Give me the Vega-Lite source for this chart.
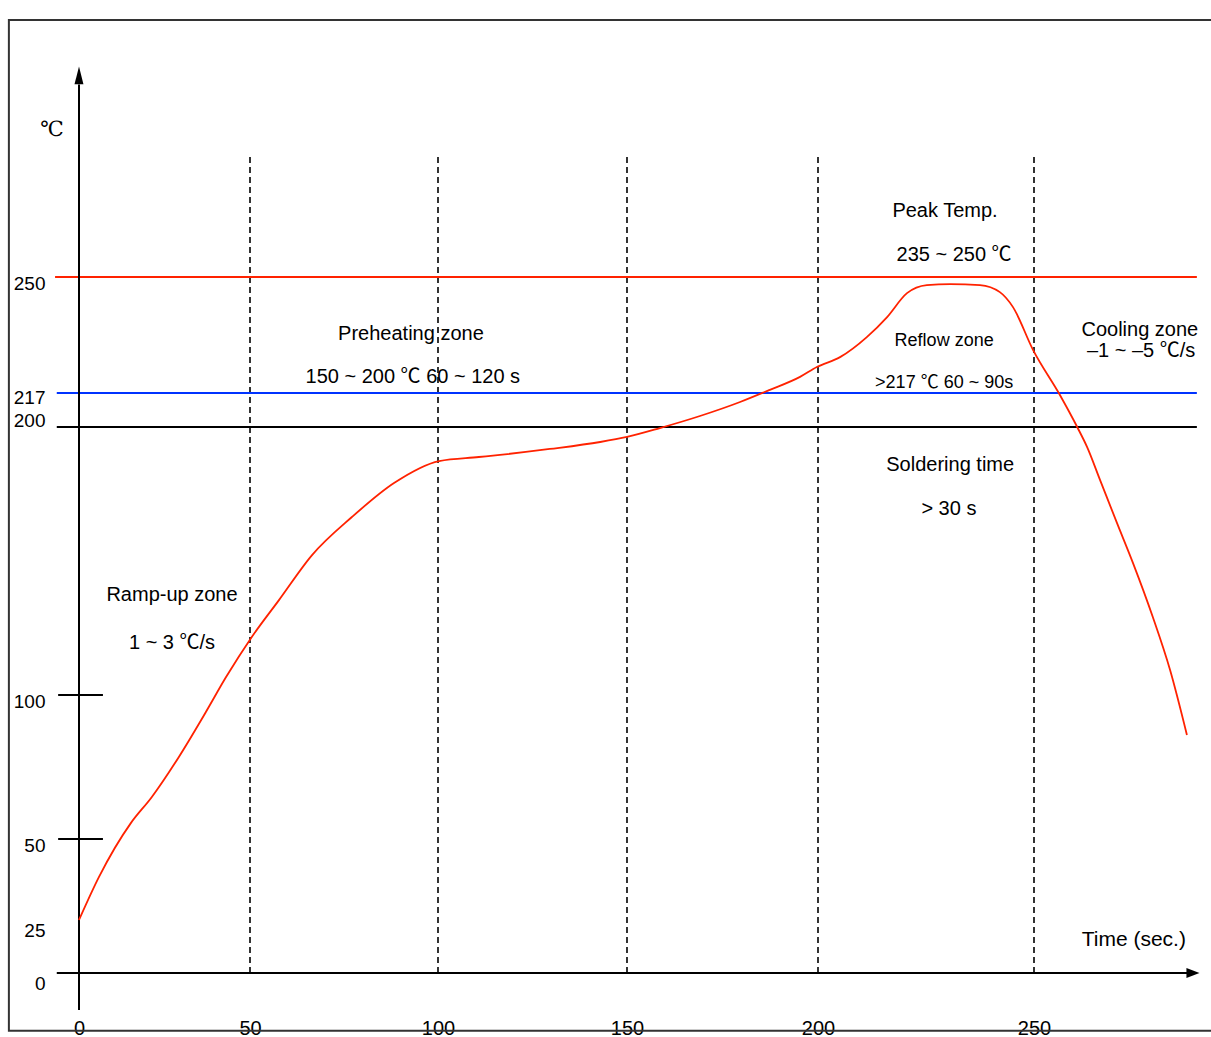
{
  "$schema": "https://vega.github.io/schema/vega-lite/v6.json",
  "width": 1211,
  "height": 1037,
  "autosize": "none",
  "padding": 0,
  "background": "white",
  "config": {"view": {"stroke": null}, "font": "Liberation Sans, Noto Sans CJK SC"},
  "encoding": {
    "x": {
      "field": "t", "type": "quantitative",
      "scale": {"domain": [-25, 0, 50, 100, 150, 200, 250, 300], "range": [-6.5, 79, 250, 438, 627, 818, 1034, 1250], "nice": false, "zero": false},
      "axis": {"values": [0, 50, 100, 150, 200, 250], "domain": false, "ticks": false, "tickSize": 0, "grid": false, "title": null, "offset": -9, "labelPadding": 0, "labelBaseline": "middle", "labelFontSize": 20, "labelColor": "#000", "labelFont": "Liberation Sans", "labelFlush": false, "labelOverlap": false}
    },
    "y": {
      "field": "temp", "type": "quantitative",
      "scale": {"domain": [-20, 0, 25, 50, 100, 200, 217, 250, 330], "range": [1015, 973, 920, 839, 695, 427, 393, 277, -3], "nice": false, "zero": false},
      "axis": {"values": [0, 25, 50, 100, 200, 217, 250], "domain": false, "ticks": false, "tickSize": 0, "grid": false, "title": null, "offset": -79, "labelPadding": 34, "labelFontSize": 19, "labelColor": "#000", "labelFont": "Liberation Sans", "labelFlush": false, "labelOverlap": false, "labelOffset": {"expr": "datum.value == 200 ? -7 : (datum.value == 217 ? 4 : (datum.value <= 25 ? 10 : 6))"}}
    }
  },
  "layer": [
    {
      "data": {"values": [{"t": -20.5, "t2": 300, "temp": -27.5, "temp2": 323.4}]},
      "mark": {"type": "rect", "filled": false, "stroke": "#333", "strokeWidth": 2},
      "encoding": {"x2": {"field": "t2"}, "y2": {"field": "temp2"}}
    },
    {
      "data": {"values": [
        {"t": 50, "temp": 0, "temp2": 285.4},
        {"t": 100, "temp": 0, "temp2": 285.4},
        {"t": 150, "temp": 0, "temp2": 285.4},
        {"t": 200, "temp": 0, "temp2": 285.4},
        {"t": 250, "temp": 0, "temp2": 285.4}
      ]},
      "mark": {"type": "rule", "color": "#000", "strokeWidth": 1.6, "strokeDash": [6, 4]},
      "encoding": {"y2": {"field": "temp2"}}
    },
    {
      "data": {"values": [{"t": -7, "t2": 287.7, "temp": 250}]},
      "mark": {"type": "rule", "color": "#ff2200", "strokeWidth": 2},
      "encoding": {"x2": {"field": "t2"}}
    },
    {
      "data": {"values": [{"t": -6.5, "t2": 287.7, "temp": 217}]},
      "mark": {"type": "rule", "color": "#0033ff", "strokeWidth": 2},
      "encoding": {"x2": {"field": "t2"}}
    },
    {
      "data": {"values": [
        {"t": -6.5, "t2": 287.7, "temp": 200},
        {"t": -6.5, "t2": 286, "temp": 0},
        {"t": -6.1, "t2": 7, "temp": 50},
        {"t": -6.1, "t2": 7, "temp": 100}
      ]},
      "mark": {"type": "rule", "color": "#000", "strokeWidth": 2},
      "encoding": {"x2": {"field": "t2"}}
    },
    {
      "data": {"values": [{"t": 0, "temp": -17.6, "temp2": 305}]},
      "mark": {"type": "rule", "color": "#000", "strokeWidth": 2},
      "encoding": {"y2": {"field": "temp2"}}
    },
    {
      "data": {"values": [{"t": 0, "temp": 307.6}]},
      "mark": {"type": "point", "shape": "M0,-1L0.5,1L-0.5,1Z", "filled": true, "color": "#000", "size": 320, "opacity": 1}
    },
    {
      "data": {"values": [{"t": 286.8, "temp": 0}]},
      "mark": {"type": "point", "shape": "M1,0L-1,-0.75L-1,0.75Z", "filled": true, "color": "#000", "size": 170, "opacity": 1}
    },
    {
      "data": {"values": [
        {"t": 0, "temp": 25}, {"t": 5.85, "temp": 38.3}, {"t": 15.2, "temp": 55.6}, {"t": 21.3, "temp": 64.6},
        {"t": 29.2, "temp": 78.5}, {"t": 37.1, "temp": 94.1}, {"t": 43.0, "temp": 106.7}, {"t": 50.3, "temp": 121.3},
        {"t": 57.7, "temp": 135.4}, {"t": 66.5, "temp": 152.2}, {"t": 77.1, "temp": 166.4}, {"t": 88.3, "temp": 179.1},
        {"t": 100.3, "temp": 187.3}, {"t": 110.8, "temp": 188.8}, {"t": 116.4, "temp": 189.6}, {"t": 129.6, "temp": 191.8},
        {"t": 142.9, "temp": 194.4}, {"t": 150, "temp": 196.3}, {"t": 158.6, "temp": 199.6}, {"t": 169.1, "temp": 205.5},
        {"t": 179.6, "temp": 212.5}, {"t": 187.4, "temp": 217.9}, {"t": 195.3, "temp": 221.6}, {"t": 199.7, "temp": 224.4},
        {"t": 205.1, "temp": 227.2}, {"t": 211.3, "temp": 232.9}, {"t": 216.0, "temp": 238.6}, {"t": 220.6, "temp": 245.4},
        {"t": 225.2, "temp": 247.7}, {"t": 230.6, "temp": 248.0}, {"t": 237.5, "temp": 247.7}, {"t": 242.1, "temp": 245.7},
        {"t": 245.1, "temp": 241.5}, {"t": 249.8, "temp": 229.2}, {"t": 256.0, "temp": 216.0}, {"t": 260.0, "temp": 200},
        {"t": 262.3, "temp": 192.5}, {"t": 265.3, "temp": 180.2}, {"t": 269.2, "temp": 164.2}, {"t": 272.9, "temp": 149.3},
        {"t": 277.5, "temp": 129.1}, {"t": 281.5, "temp": 109.3}, {"t": 285.4, "temp": 86.1}
      ]},
      "mark": {"type": "line", "color": "#ff2200", "strokeWidth": 1.8, "interpolate": "monotone"}
    },
    {
      "data": {"values": [
        {"t": 229.4, "temp": 268.9, "label": "Peak Temp."},
        {"t": 231.5, "temp": 256.3, "label": "235 ~ 250 ℃"},
        {"t": 92.8, "temp": 233.8, "label": "Preheating zone"},
        {"t": 93.3, "temp": 221.6, "label": "150 ~ 200 ℃ 60 ~ 120 s"},
        {"t": 230.6, "temp": 185.8, "label": "Soldering time"},
        {"t": 230.3, "temp": 169.4, "label": "> 30 s"},
        {"t": 27.2, "temp": 137.3, "label": "Ramp-up zone"},
        {"t": 27.2, "temp": 119.4, "label": "1 ~ 3 ℃/s"},
        {"t": 274.5, "temp": 234.9, "label": "Cooling zone"},
        {"t": 274.8, "temp": 228.9, "label": "–1 ~ –5 ℃/s"}
      ]},
      "mark": {"type": "text", "fontSize": 20, "font": "Liberation Sans, Noto Sans CJK SC", "color": "#000", "align": "center", "baseline": "middle"},
      "encoding": {"text": {"field": "label"}}
    },
    {
      "data": {"values": [
        {"t": 229.2, "temp": 231.8, "label": "Reflow zone"},
        {"t": 229.2, "temp": 219.8, "label": ">217 ℃ 60 ~ 90s"}
      ]},
      "mark": {"type": "text", "fontSize": 18, "font": "Liberation Sans, Noto Sans CJK SC", "color": "#000", "align": "center", "baseline": "middle"},
      "encoding": {"text": {"field": "label"}}
    },
    {
      "data": {"values": [{"t": 273.1, "temp": 15.6, "label": "Time (sec.)"}]},
      "mark": {"type": "text", "fontSize": 21, "font": "Liberation Sans", "color": "#000", "align": "center", "baseline": "middle"},
      "encoding": {"text": {"field": "label"}}
    },
    {
      "data": {"values": [{"t": -7.9, "temp": 292.0, "label": "℃"}]},
      "mark": {"type": "text", "fontSize": 21, "font": "DejaVu Serif, Noto Sans CJK SC", "color": "#000", "align": "center", "baseline": "middle"},
      "encoding": {"text": {"field": "label"}}
    }
  ]
}
